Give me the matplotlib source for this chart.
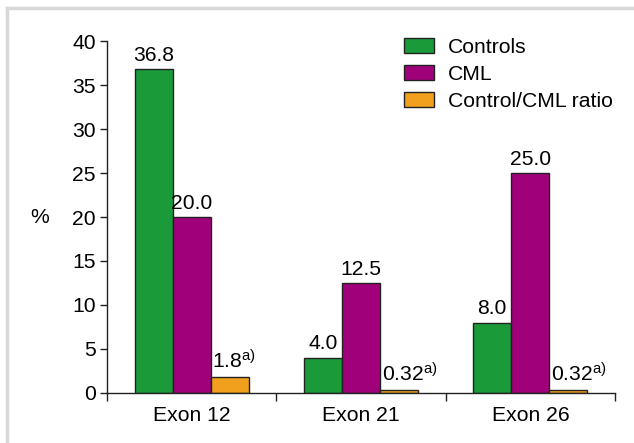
import matplotlib
matplotlib.use("Agg")
import matplotlib.pyplot as plt
from matplotlib.lines import Line2D
import numpy as np

plt.rcParams['font.family'] = ['Liberation Sans', 'DejaVu Sans']
plt.rcParams['mathtext.fontset'] = 'custom'
plt.rcParams['mathtext.rm'] = 'Liberation Sans'
plt.rcParams['mathtext.it'] = 'Liberation Sans'

categories = ["Exon 12", "Exon 21", "Exon 26"]
series_names = ["Controls", "CML", "Control/CML ratio"]
controls = [36.8, 4.0, 8.0]
cml = [20.0, 12.5, 25.0]
ratio = [1.8, 0.32, 0.32]
controls_labels = ["36.8", "4.0", "8.0"]
cml_labels = ["20.0", "12.5", "25.0"]
ratio_labels = ["1.8", "0.32", "0.32"]
yticks = [0, 5, 10, 15, 20, 25, 30, 35, 40]

colors = ["#1a9a38", "#a0007a", "#f0a01c"]
edge = "#222222"

fig = plt.figure(figsize=(6.34, 4.43), dpi=100)
ax = fig.add_axes([107/634, 1-393/443, (615-107)/634, (393-41)/443])

x = np.arange(len(categories))
w = 0.225
fs = 15.2

ax.bar(x - w, controls, w, color=colors[0], edgecolor=edge, linewidth=1.0, label=series_names[0])
ax.bar(x, cml, w, color=colors[1], edgecolor=edge, linewidth=1.0, label=series_names[1])
ax.bar(x + w, ratio, w, color=colors[2], edgecolor=edge, linewidth=1.0, label=series_names[2])

for xi, v, lab in zip(x - w, controls, controls_labels):
    ax.annotate(lab, (xi, v), xytext=(0, 6), textcoords='offset points',
                ha='center', va='baseline', fontsize=fs)
for xi, v, lab in zip(x, cml, cml_labels):
    ax.annotate(lab, (xi, v), xytext=(0, 6), textcoords='offset points',
                ha='center', va='baseline', fontsize=fs)
for xi, v, lab in zip(x + w, ratio, ratio_labels):
    ax.annotate(lab + r"$^{\mathrm{a)}}$", (xi - w/2, v), xytext=(1.2, 6), textcoords='offset points',
                ha='left', va='baseline', fontsize=fs)

ax.set_xlim(-0.5, 2.5)
ax.set_ylim(0, 40)
ax.set_yticks(yticks)
ax.set_yticklabels([str(t) for t in yticks], fontsize=fs)
ax.set_xticks([-0.5, 0.5, 1.5, 2.5])
ax.set_xticklabels([])
ax.set_xticks(x, minor=True)
ax.set_xticklabels(categories, minor=True, fontsize=fs)
ax.tick_params(axis='x', which='major', direction='out', length=6, width=1, color='#222222')
ax.tick_params(axis='x', which='minor', length=0, pad=9.5)
ax.tick_params(axis='y', direction='out', length=5, width=1, color='#222222', pad=3)
for s in ['top', 'right']:
    ax.spines[s].set_visible(False)
for s in ['left', 'bottom']:
    ax.spines[s].set_color('#222222')
    ax.spines[s].set_linewidth(1)

fig.text(40/634, 1-217/443, "%", fontsize=fs, ha='center', va='center')

leg = ax.legend(loc='upper left', bbox_to_anchor=(404/634, 1-38/443), bbox_transform=fig.transFigure,
                frameon=False, fontsize=fs, handlelength=1.4, handleheight=0.72,
                handletextpad=0.7, labelspacing=0.38, borderpad=0, borderaxespad=0)

fig.add_artist(Line2D([7/634, 1], [1-8/443, 1-8/443], transform=fig.transFigure, color='#d8d8d8', lw=2.5))
fig.add_artist(Line2D([7/634, 7/634], [0, 1-8/443], transform=fig.transFigure, color='#d8d8d8', lw=2.5))

fig.savefig("out.png", dpi=100)
